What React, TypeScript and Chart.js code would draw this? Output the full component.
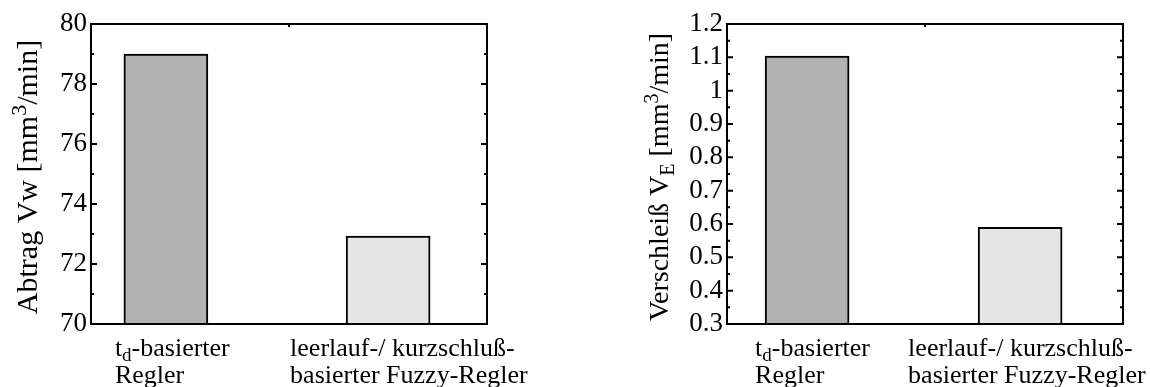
import React, { useEffect, useRef } from "react";
import { Chart, registerables } from "chart.js";

Chart.register(...registerables);

// ---------- data ----------
const categories = ["t_{d}-basierter\nRegler", "leerlauf-/ kurzschluß-\nbasierter Fuzzy-Regler"];
const categoryPositions = [1, 2];
const abtragValues = [79, 72.93];
const verschleissValues = [1.104, 0.59];
const abtragTicks = [70, 72, 74, 76, 78, 80];
const verschleissTicks = [0.3, 0.4, 0.5, 0.6, 0.7, 0.8, 0.9, 1.0, 1.1, 1.2];
const abtragTitle = "Abtrag Vw [mm^{3}/min]";
const verschleissTitle = "Verschleiß V_{E} [mm^{3}/min]";
const barFills = ["#b3b3b3", "#e6e6e6"];

const FONT = "'Liberation Serif', 'Times New Roman', Times, serif";

type Seg = { text: string; kind: "n" | "sub" | "sup" };

function parseRich(s: string): Seg[] {
  const out: Seg[] = [];
  const re = /([_^])\{([^}]*)\}/g;
  let last = 0;
  let m: RegExpExecArray | null;
  while ((m = re.exec(s))) {
    if (m.index > last) out.push({ text: s.slice(last, m.index), kind: "n" });
    out.push({ text: m[2], kind: m[1] === "_" ? "sub" : "sup" });
    last = re.lastIndex;
  }
  if (last < s.length) out.push({ text: s.slice(last), kind: "n" });
  return out;
}

function segFont(kind: string, size: number) {
  const s = kind === "n" ? size : Math.round(size * 0.72);
  return `${s}px ${FONT}`;
}

function richWidth(ctx: CanvasRenderingContext2D, segs: Seg[], size: number) {
  let w = 0;
  for (const seg of segs) {
    ctx.font = segFont(seg.kind, size);
    w += ctx.measureText(seg.text).width;
  }
  return w;
}

function drawRich(ctx: CanvasRenderingContext2D, segs: Seg[], x: number, y: number, size: number) {
  let cx = x;
  ctx.textAlign = "left";
  ctx.textBaseline = "alphabetic";
  for (const seg of segs) {
    ctx.font = segFont(seg.kind, size);
    const dy = seg.kind === "sub" ? size * 0.2 : seg.kind === "sup" ? -size * 0.36 : 0;
    ctx.fillText(seg.text, cx, y + dy);
    cx += ctx.measureText(seg.text).width;
  }
}

type PanelProps = {
  values: number[];
  ticks: number[];
  title: string;
  titleSize: number;
  xMin: number;
  xMax: number;
  yArea: number;
  padRight: number;
  titleBaselineX: number;
  labelOffsets: number[];
  decimals: number;
  left: number;
};

function BarPanel(p: PanelProps) {
  const ref = useRef<HTMLCanvasElement>(null);
  useEffect(() => {
    const canvas = ref.current!;
    const decor = {
      id: "decor",
      afterDatasetsDraw(chart: any) {
        const { ctx, chartArea, scales } = chart;
        const { left, right, top, bottom } = chartArea;
        const y = scales.y;
        ctx.save();
        ctx.strokeStyle = "#000";
        ctx.lineWidth = 2;
        ctx.strokeRect(left, top, right - left, bottom - top);
        ctx.beginPath();
        for (let i = 0; i < p.ticks.length; i++) {
          const v = p.ticks[i];
          const py = y.getPixelForValue(v);
          ctx.moveTo(left, py);
          ctx.lineTo(left + 6, py);
          ctx.moveTo(right, py);
          ctx.lineTo(right - 6, py);
          if (i < p.ticks.length - 1) {
            const mv = (v + p.ticks[i + 1]) / 2;
            const my = y.getPixelForValue(mv);
            ctx.moveTo(left, my);
            ctx.lineTo(left + 3, my);
            ctx.moveTo(right, my);
            ctx.lineTo(right - 3, my);
          }
        }
        const cxm = (left + right) / 2;
        ctx.moveTo(cxm, top);
        ctx.lineTo(cxm, top + 3);
        ctx.stroke();
        ctx.restore();
      },
      afterDraw(chart: any) {
        const { ctx, chartArea, scales } = chart;
        const x = scales.x;
        ctx.save();
        ctx.fillStyle = "#000";
        // category labels
        categories.forEach((lab, i) => {
          const px = x.getPixelForValue(categoryPositions[i]);
          const lines = lab.split("\n");
          lines.forEach((line, li) => {
            drawRich(ctx, parseRich(line), px + p.labelOffsets[i], chartArea.bottom + 32 + li * 27, 26);
          });
        });
        // y title
        const segs = parseRich(p.title);
        const tsize = p.titleSize;
        const w = richWidth(ctx, segs, tsize);
        const cy = (chartArea.top + chartArea.bottom) / 2 + 3;
        ctx.translate(p.titleBaselineX, cy);
        ctx.rotate(-Math.PI / 2);
        drawRich(ctx, segs, -w / 2, 0, tsize);
        ctx.restore();
      },
    };
    const chart = new Chart(canvas, {
      type: "bar",
      data: {
        datasets: [
          {
            data: p.values.map((v, i) => ({ x: categoryPositions[i], y: v })),
            backgroundColor: barFills,
            borderColor: "#000",
            borderWidth: 2,
            borderSkipped: false,
            barThickness: 84,
          } as any,
        ],
      },
      options: {
        responsive: false,
        animation: false,
        devicePixelRatio: 1,
        layout: { padding: { left: 0, top: 24, right: p.padRight, bottom: 63 } },
        plugins: {
          legend: { display: false },
          tooltip: { enabled: false },
          title: { display: false },
        },
        scales: {
          x: { type: "linear", display: false, min: p.xMin, max: p.xMax, offset: false },
          y: {
            type: "linear",
            min: p.ticks[0],
            max: p.ticks[p.ticks.length - 1],
            border: { display: false },
            grid: { display: false, drawTicks: false },
            afterBuildTicks: (s: any) => {
              s.ticks = p.ticks.map((v) => ({ value: v }));
            },
            afterFit: (s: any) => {
              s.width = p.yArea;
            },
            ticks: {
              autoSkip: false,
              font: { family: FONT, size: 27 },
              color: "#000",
              padding: 4,
              callback: (v: any) => String(parseFloat(Number(v).toFixed(p.decimals))),
            },
          },
        },
      } as any,
      plugins: [decor],
    });
    return () => chart.destroy();
  }, []);
  return (
    <canvas
      ref={ref}
      width={575}
      height={387}
      style={{ position: "absolute", left: p.left, top: 0, width: 575, height: 387 }}
    />
  );
}

export default function App() {
  return (
    <div style={{ position: "absolute", left: 0, top: 0, width: 1150, height: 387, background: "#fff" }}>
      <BarPanel
        values={abtragValues}
        ticks={abtragTicks}
        title={abtragTitle}
        titleSize={30}
        xMin={0.663}
        xMax={2.445}
        yArea={91}
        padRight={88}
        titleBaselineX={37}
        labelOffsets={[-51, -98]}
        decimals={0}
        left={0}
      />
      <BarPanel
        values={verschleissValues}
        ticks={verschleissTicks}
        title={verschleissTitle}
        titleSize={28}
        xMin={0.624}
        xMax={2.483}
        yArea={152}
        padRight={27}
        titleBaselineX={93}
        labelOffsets={[-52, -112]}
        decimals={1}
        left={575}
      />
    </div>
  );
}
